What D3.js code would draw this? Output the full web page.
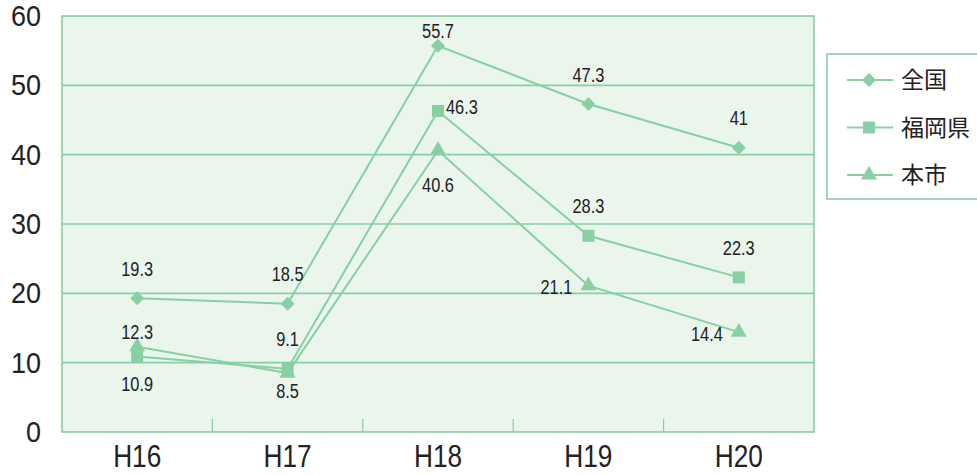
<!DOCTYPE html>
<html>
<head>
<meta charset="utf-8">
<script src="https://cdn.jsdelivr.net/npm/d3@7"></script>
<style>
  body { margin: 0; background: #fff; }
  svg { display: block; }
</style>
</head>
<body>
<div class="chart"></div>
<script>
var categories = ["H16", "H17", "H18", "H19", "H20"];
var seriesNames = ["全国", "福岡県", "本市"];
var zenkoku = [19.3, 18.5, 55.7, 47.3, 41];
var fukuoka = [10.9, 9.1, 46.3, 28.3, 22.3];
var honshi = [12.3, 8.5, 40.6, 21.1, 14.4];
var yTicks = [0, 10, 20, 30, 40, 50, 60];

// where each value label sits relative to its marker
var labelSpots = [
    ["a", "a", "A", "a", "a"],
    ["b", "a", "r", "a", "a"],
    ["A", "B", "bb", "l", "l"]
];

var green = "#88cfa3";
var font = "'Liberation Sans', Arial, sans-serif";

var margin = {top: 16, right: 163, bottom: 43, left: 62},
    width = 977 - margin.left - margin.right,
    height = 475 - margin.top - margin.bottom;

var svg = d3.select(".chart").append("svg")
    .attr("width", 977)
    .attr("height", 475);

var g = svg.append("g")
    .attr("transform", "translate(" + margin.left + "," + margin.top + ")");

var x = d3.scaleBand()
    .domain(categories)
    .range([0, width]);

var y = d3.scaleLinear()
    .domain([0, 60])
    .range([height, 0]);

g.append("rect")
    .attr("width", width)
    .attr("height", height)
    .attr("fill", "#eaf5ec");

// grid
g.selectAll("line.grid")
    .data(yTicks.slice(1, -1))
    .enter().append("line")
    .attr("class", "grid")
    .attr("x1", 0).attr("x2", width)
    .attr("y1", function(d) { return y(d); })
    .attr("y2", function(d) { return y(d); })
    .attr("stroke", green)
    .attr("stroke-width", 1.6);

// category separators
g.selectAll("line.sep")
    .data(categories.slice(1))
    .enter().append("line")
    .attr("class", "sep")
    .attr("x1", function(d) { return x(d); })
    .attr("x2", function(d) { return x(d); })
    .attr("y1", height).attr("y2", height - 13)
    .attr("stroke", green)
    .attr("stroke-width", 1.2);

g.append("rect")
    .attr("width", width)
    .attr("height", height)
    .attr("fill", "none")
    .attr("stroke", green)
    .attr("stroke-width", 1.6);

// condensed look: squeeze the text horizontally
var yAxis = d3.axisLeft(y).tickValues(yTicks).tickSize(0).tickPadding(21);
g.append("g")
    .call(yAxis)
    .call(function(a) { a.select(".domain").remove(); })
    .selectAll("text")
    .attr("x", -21 / 0.9)
    .attr("transform", "scale(0.9,1)")
    .attr("font-family", font)
    .attr("font-size", 30)
    .attr("fill", "#222");

var xAxis = d3.axisBottom(x).tickSize(0).tickPadding(12);
g.append("g")
    .attr("transform", "translate(0," + height + ")")
    .call(xAxis)
    .call(function(a) { a.select(".domain").remove(); })
    .selectAll("text")
    .attr("transform", "scale(0.82,1)")
    .attr("font-family", font)
    .attr("font-size", 32)
    .attr("fill", "#222");

var series = [zenkoku, fukuoka, honshi];
var symbols = [
    {type: d3.symbolSquare, size: 98, rotate: 45},
    {type: d3.symbolSquare, size: 144, rotate: 0},
    {type: d3.symbolTriangle, size: 110, rotate: 0}
];

var cx = function(i) { return x(categories[i]) + x.bandwidth() / 2; };

var line = d3.line()
    .x(function(d, i) { return cx(i); })
    .y(function(d) { return y(d); });

series.forEach(function(vals, s) {
    g.append("path")
        .datum(vals)
        .attr("d", line)
        .attr("fill", "none")
        .attr("stroke", green)
        .attr("stroke-width", 2);
});

series.forEach(function(vals, s) {
    var sym = d3.symbol().type(symbols[s].type).size(symbols[s].size);
    g.selectAll("path.m" + s)
        .data(vals)
        .enter().append("path")
        .attr("class", "m" + s)
        .attr("d", sym)
        .attr("fill", green)
        .attr("transform", function(d, i) {
            return "translate(" + cx(i) + "," + y(d) + ") rotate(" + symbols[s].rotate + ")";
        });
});

var offsets = {
    a: {dx: 0, dy: -30, anchor: "middle"},
    A: {dx: 0, dy: -15, anchor: "middle"},
    b: {dx: 0, dy: 27, anchor: "middle"},
    B: {dx: 0, dy: 17, anchor: "middle"},
    bb: {dx: 0, dy: 34, anchor: "middle"},
    r: {dx: 8, dy: -5, anchor: "start"},
    l: {dx: -16, dy: 1, anchor: "end"}
};

series.forEach(function(vals, s) {
    g.selectAll("text.v" + s)
        .data(vals)
        .enter().append("text")
        .attr("class", "v" + s)
        .attr("transform", function(d, i) {
            var o = offsets[labelSpots[s][i]];
            return "translate(" + (cx(i) + o.dx) + "," + (y(d) + o.dy) + ") scale(0.78,1)";
        })
        .attr("dy", "0.36em")
        .attr("text-anchor", function(d, i) { return offsets[labelSpots[s][i]].anchor; })
        .attr("font-family", font)
        .attr("font-size", 21)
        .attr("fill", "#222")
        .text(function(d) { return d; });
});

// legend
var legend = svg.append("g")
    .attr("transform", "translate(827,54)");

legend.append("rect")
    .attr("width", 160)
    .attr("height", 145)
    .attr("fill", "#fff")
    .attr("stroke", green)
    .attr("stroke-width", 1.6);

seriesNames.forEach(function(name, s) {
    var row = legend.append("g")
        .attr("transform", "translate(0," + (26 + s * 47.5) + ")");
    row.append("line")
        .attr("x1", 20).attr("x2", 66)
        .attr("stroke", green)
        .attr("stroke-width", 2);
    row.append("path")
        .attr("d", d3.symbol().type(symbols[s].type).size(symbols[s].size))
        .attr("transform", "translate(42,0) rotate(" + symbols[s].rotate + ")")
        .attr("fill", green);
    row.append("text")
        .attr("x", 74)
        .attr("dy", "0.36em")
        .attr("font-family", "'Noto Sans CJK JP', sans-serif")
        .attr("font-size", 23)
        .attr("fill", "#222")
        .text(name);
});
</script>
</body>
</html>
